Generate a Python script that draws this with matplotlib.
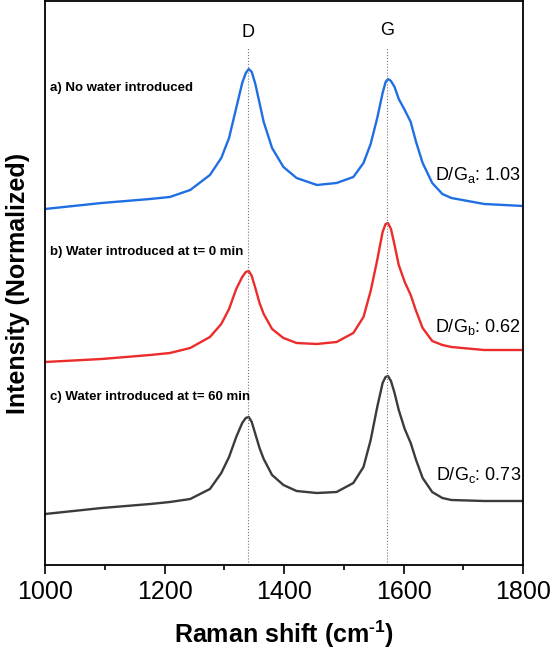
import matplotlib.pyplot as plt

plt.rcParams['font.family'] = ['Liberation Sans', 'DejaVu Sans']
plt.rcParams['mathtext.fontset'] = 'custom'
plt.rcParams['mathtext.rm'] = 'Liberation Sans'
plt.rcParams['mathtext.it'] = 'Liberation Sans:italic'
plt.rcParams['mathtext.bf'] = 'Liberation Sans:bold'
plt.rcParams['mathtext.default'] = 'regular'

# Raman shift (cm-1)
shift = [1000, 1095, 1176, 1209, 1243, 1276, 1295, 1308, 1320, 1330, 1336, 1341, 1346, 1352, 1359, 1366,
         1380, 1399, 1421, 1455, 1488, 1516, 1533, 1545, 1556, 1565, 1570, 1574, 1579, 1585, 1592,
         1602, 1612, 1621, 1632, 1648, 1665, 1680, 1735, 1800]

# intensities (normalized, offset)
no_water = [356, 362, 366, 368, 375, 390, 407, 427, 457, 482, 492, 496, 493, 481, 462, 443,
            417, 398, 387, 380, 382, 388, 402, 421, 447, 472, 483, 486, 484, 478, 466,
            455, 443, 423, 402, 382, 371, 367, 361, 359]
water_t0 = [203, 206, 210, 212, 217, 228, 241, 256, 276, 288, 293, 294, 289, 277, 262, 251,
            236, 227, 222, 221, 223, 232, 248, 274, 305, 333, 341, 342, 336, 320, 300,
            283, 270, 254, 237, 224, 220, 218, 215, 215]
water_t60 = [51, 57, 61, 63, 66, 76, 92, 108, 128, 142, 147, 148, 143, 131, 117, 106,
             90, 80, 74, 72, 73, 82, 98, 125, 158, 182, 188, 189, 184, 172, 155,
             136, 122, 105, 87, 73, 67, 65, 64, 64]

labels = ['a) No water introduced', 'b) Water introduced at t= 0 min', 'c) Water introduced at t= 60 min']
ratios = ['D/G$_{a}$: 1.03', 'D/G$_{b}$: 0.62', 'D/G$_{c}$: 0.73']
d_pos = 1340
g_pos = 1573

fig = plt.figure(figsize=(5.53, 6.51), dpi=100)
ax = fig.add_axes([0.0814, 0.1321, 0.8644, 0.8664])

ax.plot(shift, no_water, color='#1f6fe3', lw=1.7)
ax.plot(shift, water_t0, color='#ec2b2b', lw=1.7)
ax.plot(shift, water_t60, color='#3b3b3b', lw=1.7)

ax.axvline(d_pos, ymin=0.005, ymax=0.918, color='#777777', lw=0.8, ls=':')
ax.axvline(g_pos, ymin=0.005, ymax=0.918, color='#777777', lw=0.8, ls=':')
ax.text(d_pos, 532, 'D', ha='center', va='center', fontsize=13)
ax.text(g_pos, 534, 'G', ha='center', va='center', fontsize=13)

ax.text(1008, 477, labels[0], fontsize=9.5, fontweight='bold', va='center')
ax.text(1008, 313, labels[1], fontsize=9.5, fontweight='bold', va='center')
ax.text(1008, 168, labels[2], fontsize=9.5, fontweight='bold', va='center')

ax.text(1797, 390, ratios[0], fontsize=13, ha='right', va='center')
ax.text(1797, 238, ratios[1], fontsize=13, ha='right', va='center')
ax.text(1797, 90, ratios[2], fontsize=13, ha='right', va='center')

ax.set_xlim(1000, 1800)
ax.set_ylim(0, 564)
ax.set_xticks([1000, 1200, 1400, 1600, 1800])
ax.set_xticks([1100, 1300, 1500, 1700], minor=True)
ax.set_yticks([])
ax.tick_params(axis='x', which='major', direction='out', length=6.5, width=1.2, labelsize=18, pad=4)
ax.tick_params(axis='x', which='minor', direction='out', length=3.5, width=1.2)
for s in ax.spines.values():
    s.set_linewidth(1.3)

ax.set_xlabel('Raman shift (cm$^{\\mathbf{\u20101}}$)', fontsize=18, fontweight='bold', labelpad=11)
ax.set_ylabel('Intensity (Normalized)', fontsize=18, fontweight='bold', labelpad=11)

fig.savefig('out.png', dpi=100)
